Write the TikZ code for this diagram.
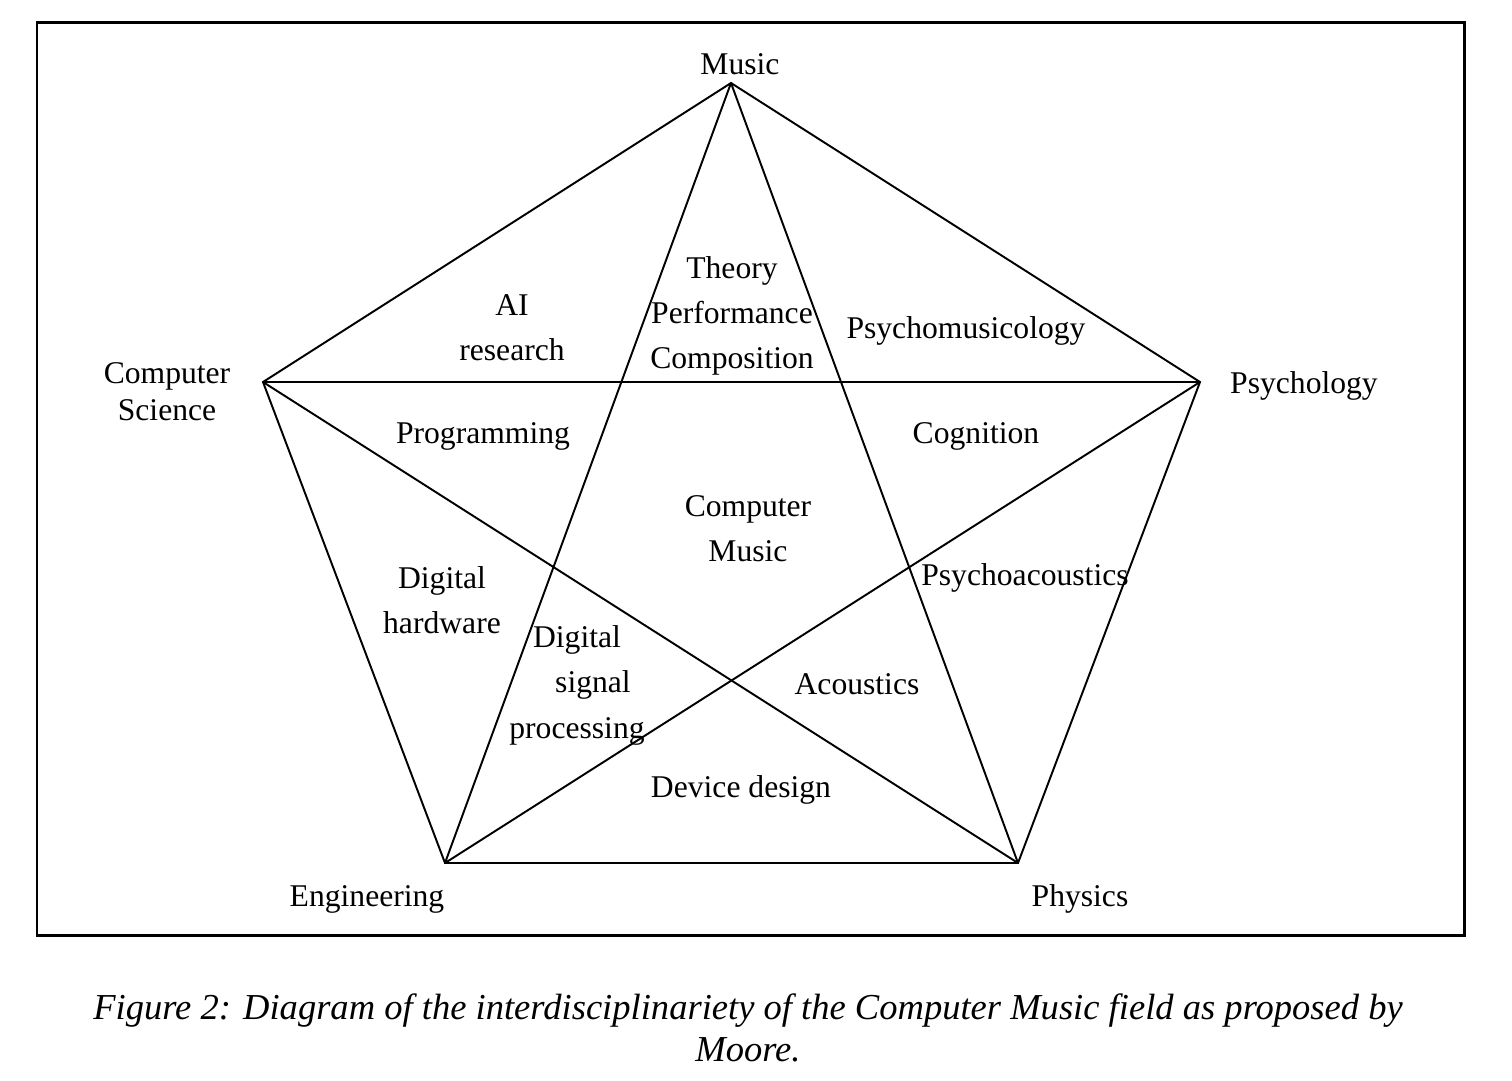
\documentclass[tikz,border=0pt]{standalone}
\usepackage{fontspec}
\setmainfont{Liberation Serif}
\begin{document}
\begin{tikzpicture}[x=0.02cm,y=-0.02cm,
  lbl/.style={inner sep=0pt,align=center,font=\fontsize{18}{25.6}\selectfont},
  edge/.style={line width=1.1pt,line join=miter},
  frame/.style={line width=1.7pt}]
\useasboundingbox (0,0) rectangle (1512,1080);
\draw[frame] (37,22) rectangle (1464,935);
% vertices
\coordinate (M) at (731,83);
\coordinate (P) at (1200,382);
\coordinate (Ph) at (1018,863);
\coordinate (E) at (445,863);
\coordinate (C) at (263,382);
% pentagon
\draw[edge] (M) -- (P) -- (Ph) -- (E) -- (C) -- cycle;
% star
\draw[edge] (M) -- (Ph);
\draw[edge] (M) -- (E);
\draw[edge] (C) -- (P);
\draw[edge] (C) -- (Ph);
\draw[edge] (P) -- (E);
% vertex labels
\node[lbl] (lmusic) at (740,64) {Music};
\node[lbl,font=\fontsize{18}{21}\selectfont] (lcs) at (167,392) {Computer\\Science};
\node[lbl] (lpsy) at (1304,386) {Psychology};
\node[lbl] (leng) at (367,899) {Engineering};
\node[lbl] (lphy) at (1080,899) {Physics};
% area labels
\node[lbl] (lai) at (512,328) {AI\\research};
\node[lbl] (ltheory) at (732,316) {Theory\\Performance\\Composition};
\node[lbl] (lpm) at (966,331) {Psychomusicology};
\node[lbl] (lprog) at (483,436) {Programming};
\node[lbl] (lcog) at (976,436) {Cognition};
\node[lbl] (lcm) at (748,529) {Computer\\Music};
\node[lbl] (ldh) at (442,600) {Digital\\hardware};
\node[lbl] (ldsp1) at (577,640) {Digital};
\node[lbl] (ldsp2) at (593,685) {signal};
\node[lbl] (ldsp3) at (577,731) {processing};
\node[lbl] (lpa) at (1025,578) {Psychoacoustics};
\node[lbl] (lac) at (857,684) {Acoustics};
\node[lbl] (ldd) at (741,790) {Device design};
% caption
\node[lbl,font=\fontsize{20.8}{24}\selectfont\itshape] (cap) at (748,1028)
  {Figure 2: Diagram of the interdisciplinariety of the Computer Music field as proposed by\\Moore.};
\end{tikzpicture}
\end{document}
